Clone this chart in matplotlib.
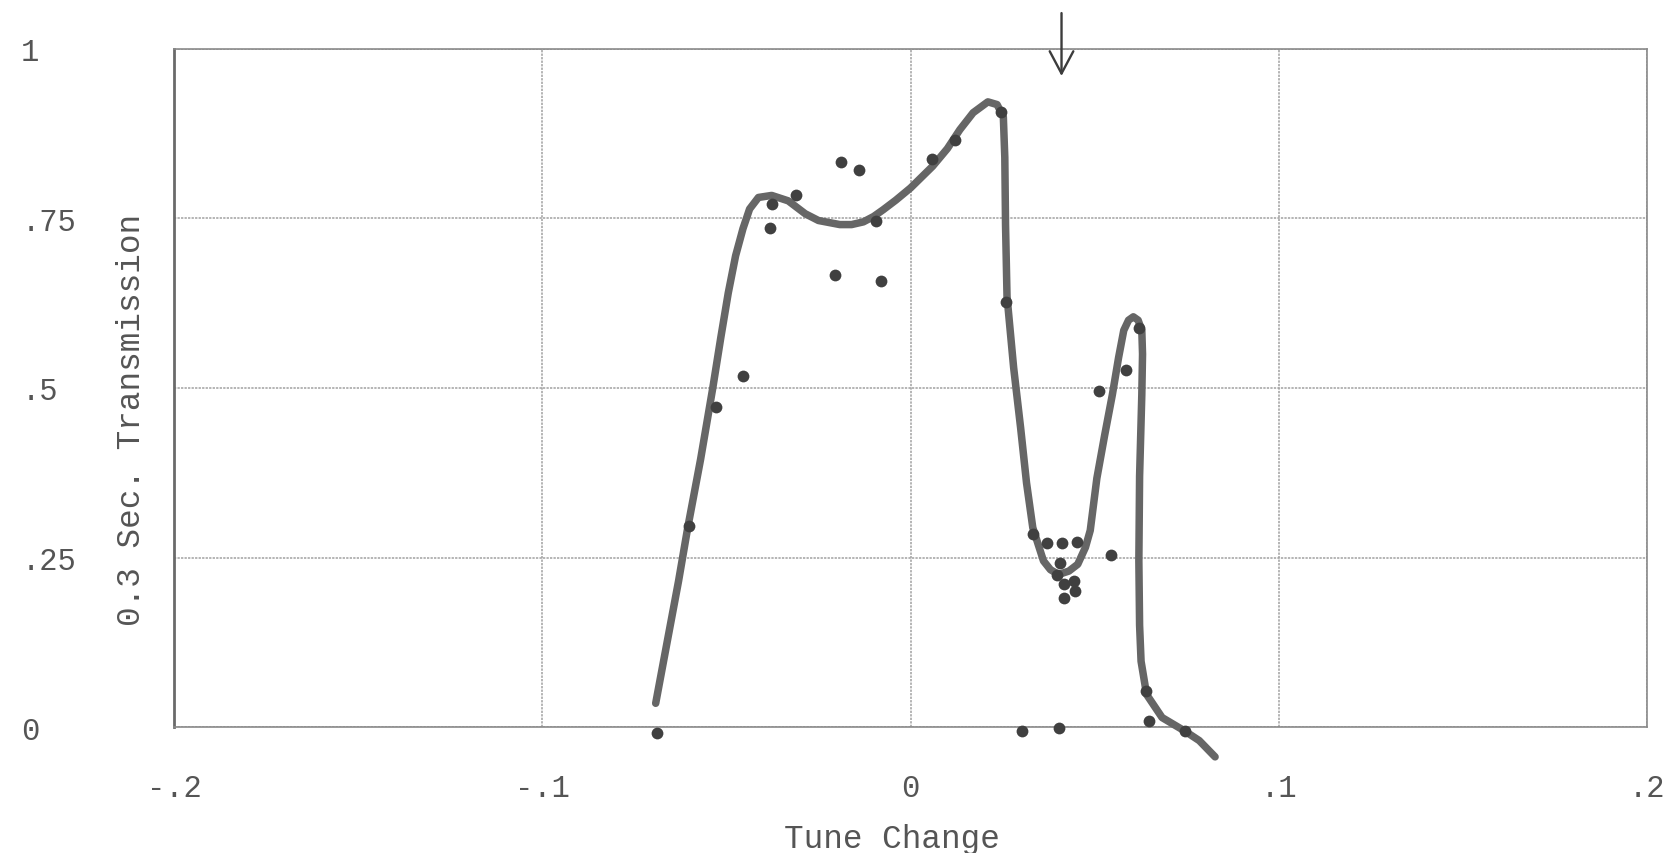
"""0.3 s transmission versus tune change: scanned data points with hand-drawn fit."""

import matplotlib

matplotlib.use("Agg")

import matplotlib.pyplot as plt

plt.rcParams["font.family"] = ["Liberation Mono", "DejaVu Sans Mono"]

# measured points (tune change, transmission)
point_x = [-0.0688, -0.0602, -0.0528, -0.0454, -0.0382, -0.0377, -0.0311, -0.0206,
           -0.0190, -0.0141, -0.0094, -0.0080, 0.0059, 0.0120, 0.0247, 0.0259,
           0.0304, 0.0332, 0.0371, 0.0410, 0.0451, 0.0406, 0.0399, 0.0418,
           0.0444, 0.0447, 0.0416, 0.0402, 0.0511, 0.0543, 0.0584, 0.0620,
           0.0639, 0.0648, 0.0745]
point_y = [-0.009, 0.296, 0.472, 0.518, 0.736, 0.771, 0.784, 0.667,
           0.833, 0.821, 0.746, 0.658, 0.838, 0.866, 0.907, 0.627,
           -0.006, 0.285, 0.272, 0.272, 0.273, 0.242, 0.224, 0.211,
           0.215, 0.200, 0.191, -0.002, 0.495, 0.253, 0.527, 0.588,
           0.053, 0.009, -0.006]

# hand-drawn curve
curve_x = [-0.0692, -0.0660, -0.0630, -0.0605, -0.0570, -0.0537, -0.0515, -0.0495,
           -0.0475, -0.0455, -0.0437, -0.0413, -0.0377, -0.0332, -0.0286, -0.0250,
           -0.0192, -0.0160, -0.0128, -0.0100, -0.0074, -0.0040,
           0.0000, 0.0060, 0.0100, 0.0134, 0.0170, 0.0210, 0.0235, 0.0252,
           0.0256, 0.0258, 0.0262, 0.0280, 0.0299, 0.0315, 0.0332, 0.0361,
           0.0380, 0.0402, 0.0430, 0.0454, 0.0475, 0.0488, 0.0506, 0.0527,
           0.0548, 0.0565, 0.0579, 0.0592, 0.0605, 0.0618, 0.0628, 0.0630,
           0.0628, 0.0622, 0.0620, 0.0622, 0.0626, 0.0641, 0.0683, 0.0745,
           0.0784, 0.0827]
curve_y = [0.035, 0.128, 0.215, 0.294, 0.395, 0.500, 0.575, 0.640,
           0.695, 0.735, 0.764, 0.781, 0.784, 0.776, 0.757, 0.747,
           0.741, 0.741, 0.745, 0.753, 0.763, 0.777,
           0.795, 0.827, 0.853, 0.881, 0.906, 0.922, 0.918, 0.900,
           0.840, 0.740, 0.635, 0.530, 0.441, 0.360, 0.294, 0.245,
           0.232, 0.225, 0.230, 0.240, 0.265, 0.290, 0.367, 0.430,
           0.490, 0.545, 0.585, 0.600, 0.605, 0.600, 0.585, 0.550,
           0.490, 0.370, 0.245, 0.150, 0.097, 0.048, 0.014, -0.006,
           -0.020, -0.044]

x_ticks = [-0.2, -0.1, 0.0, 0.1, 0.2]
x_tick_labels = ["-.2", "-.1", "0", ".1", ".2"]
y_ticks = [0.0, 0.25, 0.5, 0.75, 1.0]
y_tick_labels = ["0", ".25", ".5", ".75", "1"]

arrow_x = 0.041
arrow_y_top = 1.057
arrow_y_tip = 0.956

TEXT_COLOR = "#555555"
GRID_COLOR = "#a0a0a0"
CURVE_COLOR = "#666666"
POINT_COLOR = "#404040"


def main():
    fig = plt.figure(figsize=(16.73, 8.54), dpi=100, facecolor="white")
    ax = fig.add_axes((0.104, 0.1475, 0.8805, 0.794))

    ax.plot(curve_x, curve_y, color=CURVE_COLOR, linewidth=5.4,
            solid_capstyle="round", solid_joinstyle="round", clip_on=False, zorder=3)
    ax.scatter(point_x, point_y, s=72, color=POINT_COLOR, linewidths=0,
               clip_on=False, zorder=4)

    ax.annotate("", xy=(arrow_x, arrow_y_tip), xytext=(arrow_x, arrow_y_top),
                arrowprops={"arrowstyle": "->,head_length=1.6,head_width=0.85",
                            "color": "#3c3c3c", "linewidth": 1.7},
                annotation_clip=False)

    ax.set_xlim(-0.2, 0.2)
    ax.set_ylim(0.0, 1.0)
    ax.set_xticks(x_ticks)
    ax.set_xticklabels(x_tick_labels)
    ax.set_yticks(y_ticks)
    ax.set_yticklabels(y_tick_labels, ha="left")
    ax.tick_params(axis="both", length=0, labelsize=22, labelcolor=TEXT_COLOR)
    ax.tick_params(axis="x", pad=33)
    ax.tick_params(axis="y", pad=110)

    ax.grid(True, color=GRID_COLOR, linewidth=1.1, linestyle=(0, (1.5, 0.8)))
    for spine in ax.spines.values():
        spine.set_color("#8a8a8a")
        spine.set_linewidth(1.2)
    ax.spines["left"].set_color("#6a6a6a")
    ax.spines["left"].set_linewidth(2.0)

    ax.set_xlabel("Tune Change", fontsize=23.5, color=TEXT_COLOR)
    ax.xaxis.set_label_coords(0.4875, -0.142)
    ax.set_ylabel("0.3 Sec. Transmission", fontsize=23.5, color=TEXT_COLOR)
    ax.yaxis.set_label_coords(-0.0185, 0.455)

    fig.savefig("out.png", dpi=100, facecolor=fig.get_facecolor())
    plt.close(fig)


if __name__ == "__main__":
    main()
